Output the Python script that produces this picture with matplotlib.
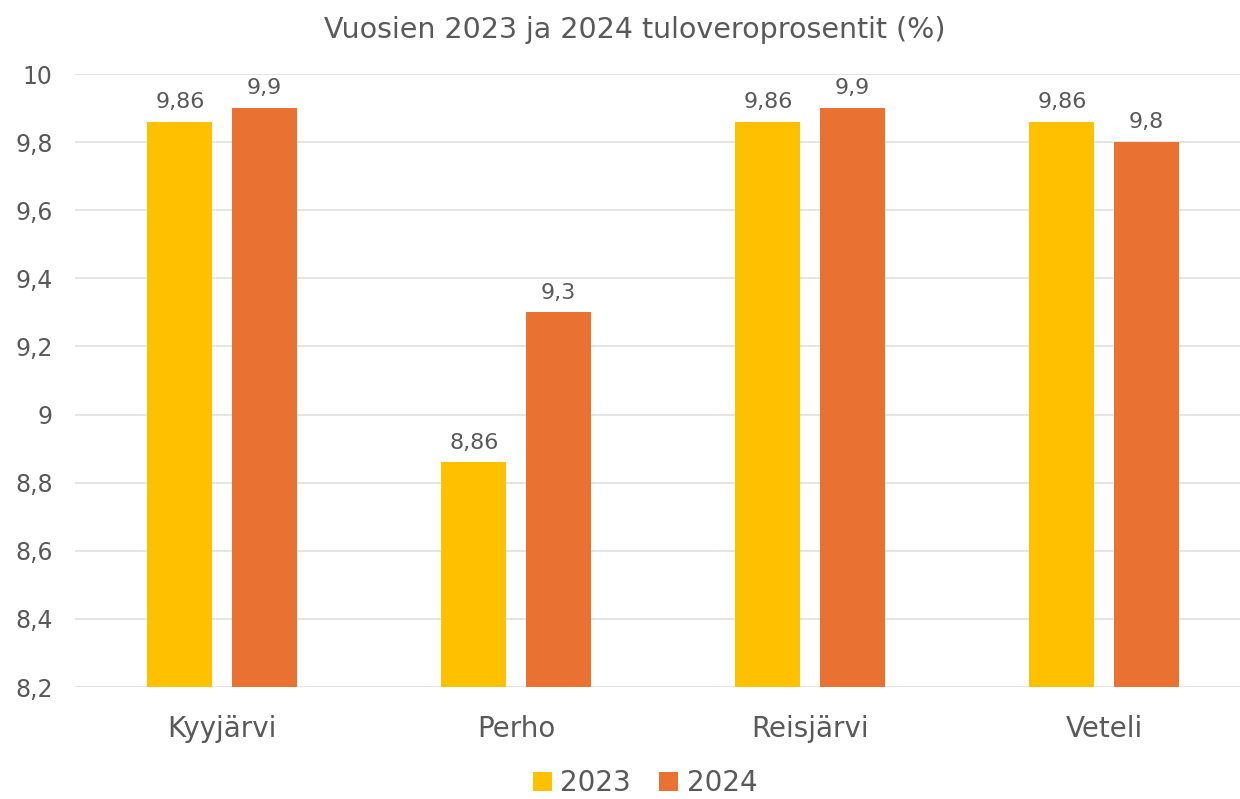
import numpy as np
import matplotlib.pyplot as plt
from matplotlib.ticker import FuncFormatter

kunnat = ["Kyyjärvi", "Perho", "Reisjärvi", "Veteli"]
vuosi_2023 = [9.86, 8.86, 9.86, 9.86]
vuosi_2024 = [9.9, 9.3, 9.9, 9.8]
y_ticks = [8.2, 8.4, 8.6, 8.8, 9.0, 9.2, 9.4, 9.6, 9.8, 10.0]

gray = "#595959"
plt.rcParams['font.family'] = ['DejaVu Sans']

def fi(v):
    # finnish decimal comma, drop trailing zeros
    s = f"{v:.2f}".rstrip("0").rstrip(".")
    return s.replace(".", ",")

fig = plt.figure(figsize=(12.4, 7.99), dpi=100)
ax = fig.add_axes([75 / 1240, 1 - 687 / 799, 1165 / 1240, (687 - 74) / 799])

x = np.arange(len(kunnat))
w = 0.221
off = 0.143
b1 = ax.bar(x - off, vuosi_2023, w, color="#FFC000", label="2023", zorder=3)
b2 = ax.bar(x + off, vuosi_2024, w, color="#E97132", label="2024", zorder=3)

for bars, vals in ((b1, vuosi_2023), (b2, vuosi_2024)):
    for r, v in zip(bars, vals):
        ax.annotate(fi(v), (r.get_x() + r.get_width() / 2, v),
                    xytext=(0, 7), textcoords="offset points",
                    ha="center", va="bottom", fontsize=16, color=gray)

ax.set_ylim(8.2, 10)
ax.set_yticks(y_ticks)
ax.yaxis.set_major_formatter(FuncFormatter(lambda v, p: fi(v)))
ax.set_xlim(-0.5, 3.5 - 11 / 294)
ax.set_xticks(x)
ax.set_xticklabels(kunnat)
ax.tick_params(axis="x", length=0, pad=20, labelsize=20, labelcolor=gray)
ax.tick_params(axis="y", length=0, pad=16, labelsize=17, labelcolor=gray)
ax.grid(axis="y", color="#E0E0E0", linewidth=1.2, zorder=0)
for s in ax.spines.values():
    s.set_visible(False)

fig.text(0.512, 1 - 30 / 799, "Vuosien 2023 ja 2024 tuloveroprosentit (%)",
         ha="center", va="center", fontsize=20.5, color=gray)

fig.legend(loc="center", bbox_to_anchor=(645 / 1240, 1 - 783 / 799), ncol=2,
           frameon=False, fontsize=20, labelcolor=gray,
           handlelength=0.7, handleheight=0.7, handletextpad=0.3, columnspacing=1.0)

fig.savefig("out.png", dpi=100)
